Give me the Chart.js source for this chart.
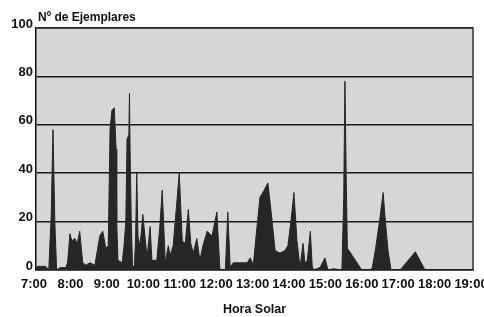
<!DOCTYPE html>
<html>
<head>
<meta charset="utf-8">
<script src="https://cdn.jsdelivr.net/npm/chart.js@4.4.0/dist/chart.umd.min.js"></script>
<style>
html, body { margin: 0; padding: 0; background: #fff; }
#wrap { width: 484px; height: 317px; position: relative; }
</style>
</head>
<body>
<div id="wrap"><canvas id="grafico"></canvas></div>
<script>
// hora solar de cada lectura
const horas = [
	'7:00','7:02','7:16','7:21','7:25','7:28','7:31','7:34','7:40','7:49',
	'7:52','7:56','7:59','8:04','8:08','8:12','8:17','8:22','8:29','8:37',
	'8:41','8:45','8:50','8:55','8:59','9:02','9:05','9:09','9:12','9:13',
	'9:15','9:22','9:25','9:28','9:30','9:33','9:34','9:35','9:37','9:39',
	'9:42','9:44','9:46','9:48','9:50','9:53','9:56','10:03','10:08','10:11',
	'10:19','10:24','10:28','10:33','10:38','10:41','10:46','10:52','10:56','11:01',
	'11:06','11:11','11:15','11:19','11:25','11:30','11:35','11:42','11:50','11:58',
	'12:03','12:12','12:16','12:20','12:25','12:36','12:48','12:53','12:58','13:03',
	'13:09','13:16','13:22','13:27','13:34','13:42','13:50','13:55','14:00','14:05',
	'14:10','14:15','14:20','14:23','14:27','14:32','14:35','14:37','14:48','14:56',
	'15:01','15:10','15:24','15:27','15:29','15:31','15:33','15:41','15:49','15:54',
	'15:57','16:11','16:14','16:19','16:27','16:32','16:35','16:40','16:45','17:00',
	'17:25','17:41','19:00'
];
// numero de ejemplares
const ejemplares = [
	0, 1.5, 1.5, 0, 22, 58, 20, 0, 1, 1,
	3, 15, 12, 13, 11, 16, 3, 2, 3, 2,
	8, 14, 16, 9, 10, 58, 66, 67, 50, 20,
	4, 3, 10, 20, 54, 56, 73, 50, 20, 2,
	1, 12, 40, 14, 10, 14, 23, 5, 18, 4,
	4, 18, 33, 3, 10, 6, 10, 28, 40, 12,
	11, 25, 11, 7, 13, 4, 10, 16, 14, 24,
	0, 0, 24, 1, 3, 3, 3, 5, 2, 15,
	30, 33, 36, 25, 8, 7, 8, 10, 20, 32,
	12, 1, 11, 3, 4, 16, 2, 0, 1, 5,
	0, 0.5, 0, 30, 78, 40, 9, 6, 3, 1,
	0, 0, 1, 8, 22, 32, 22, 8, 0, 0,
	7.5, 0, 0
];
const etiquetasHora = ['7:00','8:00','9:00','10:00','11:00','12:00','13:00','14:00','15:00','16:00','17:00','18:00','19:00'];
const marcasY = [0, 20, 40, 60, 80, 100];
const tituloY = 'Nº de Ejemplares';
const tituloX = 'Hora Solar';

function aDecimal( h) {
	var p = h.split(':');
	return +p[0] + (+p[1]) / 60;
}

const puntos = horas.map( (h, i) => ({ x: aDecimal( h), y: ejemplares[i] }));

const fuente = "'Liberation Sans', Arial, sans-serif";

// fondo gris del area y marco superior/derecho
const fondoPlot = {
	id: 'fondoPlot',
	beforeDraw( chart) {
		const a = chart.chartArea;
		const ctx = chart.ctx;
		ctx.save();
		ctx.fillStyle = '#d6d6d6';
		ctx.fillRect( a.left, a.top, a.right - a.left, a.bottom - a.top);
		ctx.restore();
	},
	afterDraw( chart) {
		const a = chart.chartArea;
		const ctx = chart.ctx;
		ctx.save();
		ctx.strokeStyle = '#333';
		ctx.lineWidth = 1.5;
		ctx.beginPath();
		ctx.moveTo( a.left, a.top);
		ctx.lineTo( a.right, a.top);
		ctx.lineTo( a.right, a.bottom);
		ctx.stroke();
		// titulo del eje y, arriba a la izquierda
		ctx.fillStyle = '#111';
		ctx.font = 'bold 12px ' + fuente;
		ctx.textBaseline = 'alphabetic';
		ctx.textAlign = 'left';
		ctx.fillText( tituloY, a.left + 2, 21);
		ctx.restore();
	}
};

const ctx = document.getElementById('grafico').getContext('2d');
const grafico = new Chart(ctx, {
	type: 'line',
	plugins: [fondoPlot],
	data: {
		datasets: [{
			label: tituloY,
			data: puntos,
			fill: 'origin',
			backgroundColor: '#262626',
			borderColor: '#262626',
			borderWidth: 1,
			pointRadius: 0,
			tension: 0
		}]
	},
	options: {
		responsive: true,
		maintainAspectRatio: false,
		animation: false,
		layout: {
			padding: { top: 28, right: 11, left: 0, bottom: 0 }
		},
		plugins: {
			legend: { display: false },
			tooltip: { enabled: false }
		},
		scales: {
			x: {
				type: 'linear',
				min: 7,
				max: 19,
				grid: { display: false, drawTicks: false },
				border: { display: true, color: '#111', width: 1.5 },
				ticks: {
					stepSize: 1,
					autoSkip: false,
					maxRotation: 0,
					padding: 7,
					labelOffset: -2,
					color: '#111',
					font: { family: fuente, size: 13, weight: 'bold' },
					callback: (v) => etiquetasHora[v - 7]
				},
				title: {
					display: true,
					text: tituloX,
					color: '#111',
					font: { family: fuente, size: 12.5, weight: 'bold' },
					padding: { top: 0, bottom: 0 }
				},
				afterFit: (s) => { s.height = 47; s.paddingLeft = 0; s.paddingRight = 0; }
			},
			y: {
				min: 0,
				max: 100,
				grid: { color: '#1a1a1a', lineWidth: 1.5, drawTicks: false },
				border: { display: true, color: '#111', width: 1.5 },
				ticks: {
					stepSize: 20,
					padding: 3,
					labelOffset: -4,
					color: '#111',
					font: { family: fuente, size: 13, weight: 'bold' },
					callback: (v) => marcasY.includes(v) ? v : ''
				},
				afterFit: (s) => { s.width = 36; s.paddingTop = 0; s.paddingBottom = 0; }
			}
		}
	}
});
</script>
</body>
</html>
